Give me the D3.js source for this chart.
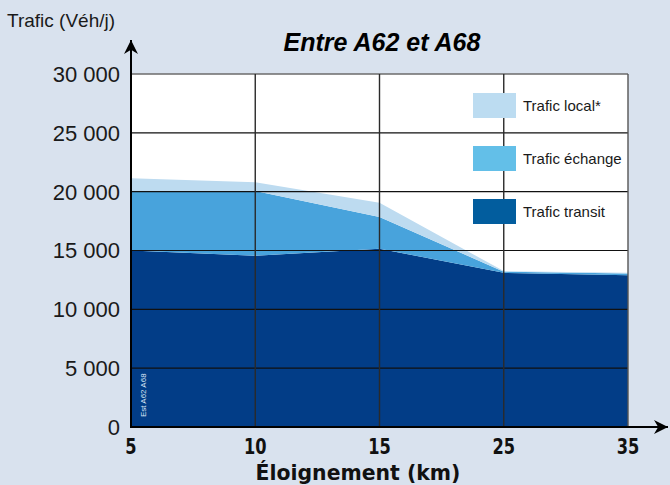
<!DOCTYPE html>
<html>
<head>
<meta charset="utf-8">
<script src="https://cdn.jsdelivr.net/npm/d3@7"></script>
<style>
  html, body { margin: 0; padding: 0; background: #d9e2ee; }
  svg { display: block; }
</style>
</head>
<body>
<div id="chart"></div>
<script>
// Trafic entre A62 et A68 — stacked areas by distance
const distances = ['5', '10', '15', '25', '35'];
const transit = [15000, 14550, 15150, 13100, 12900];
const echange = [5000, 5500, 2700, 100, 150];
const local = [1150, 750, 1200, 50, 50];
const yTicks = [0, 5000, 10000, 15000, 20000, 25000, 30000];

const series = [
  { key: 'transit', label: 'Trafic transit', area: '#023d87', swatch: '#025d9e' },
  { key: 'echange', label: 'Trafic échange', area: '#48a3dc', swatch: '#63bfe8' },
  { key: 'local', label: 'Trafic local*', area: '#bddbf0', swatch: '#bcdcf1' }
];

const SANS = "'Liberation Sans', Arial, sans-serif";
const COND = "'DejaVu Sans Condensed', 'DejaVu Sans', sans-serif";

const W = 670, H = 485;
const margin = { top: 74, right: 42, bottom: 58, left: 131 };
const width = W - margin.left - margin.right;
const height = H - margin.top - margin.bottom;

const rows = distances.map((d, i) => ({ d, transit: transit[i], echange: echange[i], local: local[i] }));

const svg = d3.select('#chart').append('svg')
  .attr('width', W).attr('height', H);

const defs = svg.append('defs');
defs.append('marker')
  .attr('id', 'arrow')
  .attr('viewBox', '0 0 10 10')
  .attr('refX', 10).attr('refY', 5)
  .attr('markerWidth', 14).attr('markerHeight', 14)
  .attr('markerUnits', 'userSpaceOnUse')
  .attr('orient', 'auto')
  .append('path')
  .attr('d', 'M0,0 L10,5 L0,10 L3,5 z')
  .attr('fill', '#000');

const g = svg.append('g').attr('transform', `translate(${margin.left},${margin.top})`);

const x = d3.scalePoint().domain(distances).range([0, width]);
const y = d3.scaleLinear().domain([0, 30000]).range([height, 0]);

// plot background
g.append('rect')
  .attr('width', width).attr('height', height)
  .attr('fill', '#fff');

const stacked = d3.stack().keys(series.map(s => s.key))(rows);
const area = d3.area()
  .x(d => x(d.data.d))
  .y0(d => y(d[0]))
  .y1(d => y(d[1]));

g.selectAll('.layer').data(stacked)
  .join('path')
  .attr('class', 'layer')
  .attr('fill', (d, i) => series[i].area)
  .attr('d', area);

// grid
g.selectAll('.hgrid').data(yTicks.filter(t => t > 0))
  .join('line')
  .attr('class', 'hgrid')
  .attr('x1', 0).attr('x2', width)
  .attr('y1', d => y(d)).attr('y2', d => y(d))
  .attr('stroke', d => d === 30000 ? '#6b6b6b' : '#111')
  .attr('stroke-width', d => d === 30000 ? 1.5 : 1.2);

g.selectAll('.vgrid').data(distances.slice(1))
  .join('line')
  .attr('class', 'vgrid')
  .attr('x1', d => x(d)).attr('x2', d => x(d))
  .attr('y1', 0).attr('y2', height)
  .attr('stroke', (d, i) => i === distances.length - 2 ? '#555' : '#2a2a2a')
  .attr('stroke-width', 1.4);

// legend
const legend = g.append('g').attr('transform', `translate(${473 - margin.left},${93 - margin.top})`);
[...series].reverse().forEach((s, i) => {
  const row = legend.append('g').attr('transform', `translate(0,${i * 53})`);
  row.append('rect')
    .attr('width', 43).attr('height', 25)
    .attr('fill', s.swatch);
  row.append('text')
    .attr('x', 50).attr('y', 13)
    .attr('dy', '0.35em')
    .attr('font-family', SANS)
    .attr('font-size', '15px')
    .attr('fill', '#1a1a1a')
    .text(s.label);
});

// small source note
g.append('text')
  .attr('transform', `translate(${146 - margin.left},${417 - margin.top}) rotate(-90)`)
  .attr('font-family', SANS)
  .attr('font-size', '8px')
  .attr('fill', '#dbe6f5')
  .text('Est A62 A68');

// axes
g.append('line')
  .attr('x1', 0).attr('x2', 0)
  .attr('y1', height + 1).attr('y2', 40 - margin.top)
  .attr('stroke', '#000').attr('stroke-width', 2)
  .attr('marker-end', 'url(#arrow)');

g.append('line')
  .attr('x1', -1).attr('x2', 668 - margin.left)
  .attr('y1', height).attr('y2', height)
  .attr('stroke', '#000').attr('stroke-width', 2.2)
  .attr('marker-end', 'url(#arrow)');

g.selectAll('.ytick').data(yTicks)
  .join('text')
  .attr('class', 'ytick')
  .attr('x', -11)
  .attr('y', d => y(d))
  .attr('dy', '0.36em')
  .attr('text-anchor', 'end')
  .attr('font-family', SANS)
  .attr('font-size', '22px')
  .attr('fill', '#1a1a1a')
  .text(d => d3.format(',')(d).replace(',', ' '));

g.selectAll('.xtick').data(distances)
  .join('text')
  .attr('class', 'xtick')
  .attr('transform', d => `translate(${x(d)},${454 - margin.top}) scale(0.82,1)`)
  .attr('text-anchor', 'middle')
  .attr('font-family', COND)
  .attr('font-weight', 'bold')
  .attr('font-size', '22px')
  .attr('fill', '#111')
  .text(d => d);

// titles
svg.append('text')
  .attr('transform', 'translate(358,480) scale(1.08,1)')
  .attr('text-anchor', 'middle')
  .attr('font-family', COND)
  .attr('font-weight', 'bold')
  .attr('font-size', '21px')
  .attr('fill', '#111')
  .text('Éloignement (km)');

svg.append('text')
  .attr('x', 7).attr('y', 27)
  .attr('font-family', SANS)
  .attr('font-size', '19px')
  .attr('fill', '#1a1a1a')
  .text('Trafic (Véh/j)');

svg.append('text')
  .attr('x', 382).attr('y', 51)
  .attr('text-anchor', 'middle')
  .attr('font-family', SANS)
  .attr('font-weight', 'bold')
  .attr('font-style', 'italic')
  .attr('font-size', '25px')
  .attr('fill', '#000')
  .text('Entre A62 et A68');
</script>
</body>
</html>
